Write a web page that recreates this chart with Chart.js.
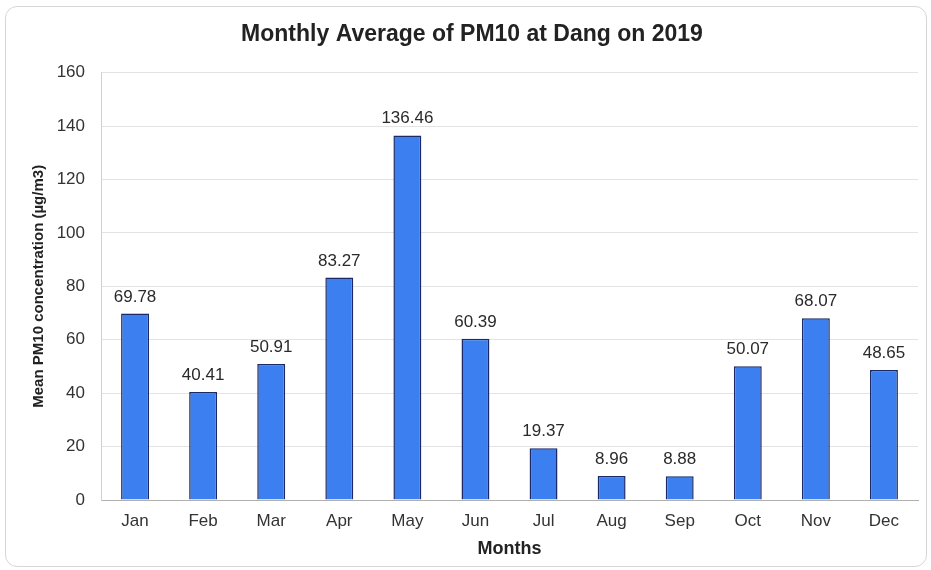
<!DOCTYPE html>
<html>
<head>
<meta charset="utf-8">
<script src="https://cdn.jsdelivr.net/npm/chart.js@4.4.1/dist/chart.umd.min.js"></script>
<style>
  html, body { margin: 0; padding: 0; background: #ffffff; }
  #frame { position: absolute; left: 5px; top: 6px; width: 922px; height: 561px; border: 1px solid #d6d6d6; border-radius: 12px; box-sizing: border-box; }
  #c { position: absolute; left: 0; top: 0; }
</style>
</head>
<body>
<div id="frame"></div>
<canvas id="c" width="931" height="570"></canvas>
<script>
const months = ["Jan","Feb","Mar","Apr","May","Jun","Jul","Aug","Sep","Oct","Nov","Dec"];
const pm10 = [69.78, 40.41, 50.91, 83.27, 136.46, 60.39, 19.37, 8.96, 8.88, 50.07, 68.07, 48.65];
const yTicks = [0, 20, 40, 60, 80, 100, 120, 140, 160];

const FONT = "'Liberation Sans', Arial, sans-serif";

const valueLabels = {
  id: 'valueLabels',
  afterDatasetsDraw(chart) {
    const ctx = chart.ctx;
    const meta = chart.getDatasetMeta(0);
    ctx.save();
    ctx.font = "17px " + FONT;
    ctx.fillStyle = "#2a2a2a";
    ctx.textAlign = "center";
    ctx.textBaseline = "alphabetic";
    meta.data.forEach((bar, i) => {
      ctx.fillText(pm10[i].toFixed(2), bar.x, bar.y - 12);
    });
    ctx.restore();
  }
};

new Chart(document.getElementById('c'), {
  type: 'bar',
  data: {
    labels: months,
    datasets: [{
      data: pm10,
      backgroundColor: '#3b7ff0',
      borderColor: '#1b2a66',
      borderWidth: 1.5,
      barPercentage: 0.41,
      categoryPercentage: 1.0
    }]
  },
  options: {
    responsive: false,
    animation: false,
    layout: { padding: { left: 26, right: 13, top: 0, bottom: 10 } },
    plugins: {
      legend: { display: false },
      tooltip: { enabled: false },
      title: {
        display: true,
        text: 'Monthly Average of PM10 at Dang on 2019',
        color: '#222',
        font: { family: FONT, size: 23, weight: 'bold' },
        padding: { top: 21, bottom: 24 }
      }
    },
    scales: {
      x: {
        afterFit(scale) { scale.height = 60; },
        grid: { display: false, drawTicks: false },
        border: { color: '#b0b0b0', width: 1 },
        ticks: { color: '#333', font: { family: FONT, size: 17 }, padding: 11 },
        title: { display: true, text: 'Months', color: '#222', font: { family: FONT, size: 18, weight: 'bold' }, padding: { top: 5, bottom: 0 } }
      },
      y: {
        min: 0, max: 160,
        afterBuildTicks(scale) { scale.ticks = yTicks.map(v => ({ value: v })); },
        afterFit(scale) { scale.width = 75; },
        grid: { color: '#e3e3e3', drawTicks: false },
        border: { color: '#d0d0d0', width: 1 },
        ticks: { color: '#333', font: { family: FONT, size: 17 }, padding: 16 },
        title: { display: true, text: 'Mean PM10 concentration (µg/m3)', color: '#222', font: { family: FONT, size: 15, weight: 'bold' }, padding: { top: 4, bottom: 10 } }
      }
    }
  },
  plugins: [valueLabels]
});
</script>
</body>
</html>
